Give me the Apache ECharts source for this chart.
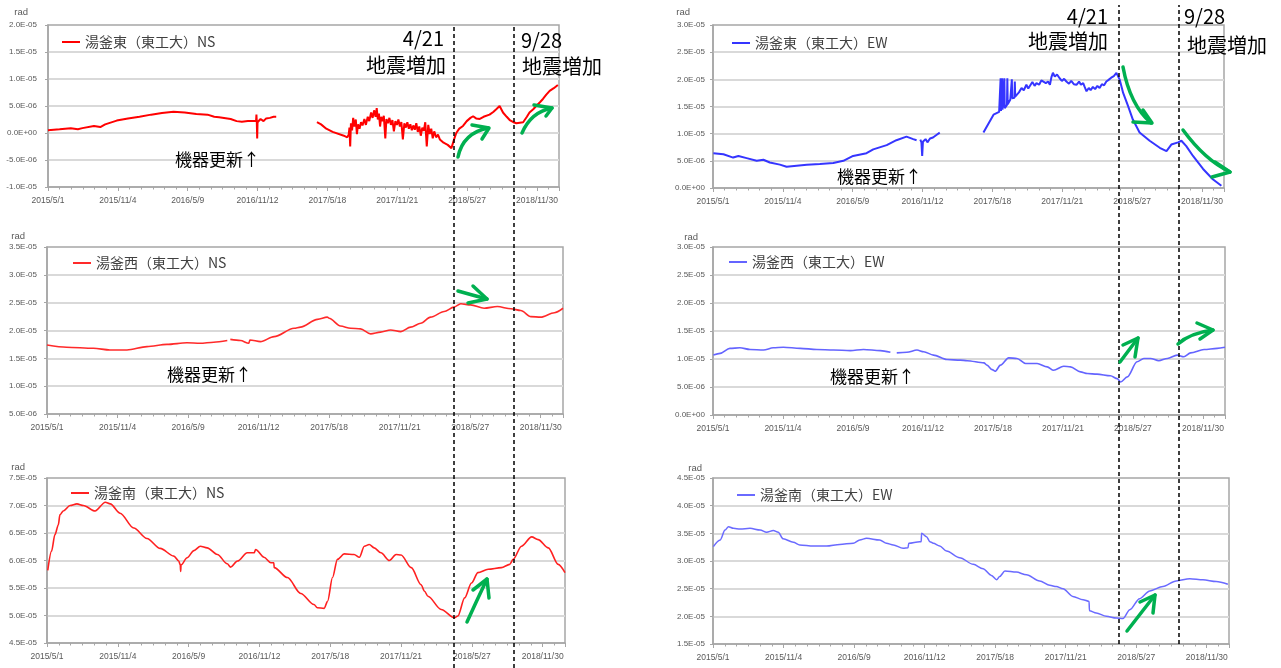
<!DOCTYPE html>
<html>
<head>
<meta charset="utf-8">
<script src="https://cdn.jsdelivr.net/npm/echarts@6/dist/echarts.min.js"></script>
<style>
  html, body { margin: 0; padding: 0; background: #ffffff; }
  #chart { width: 1281px; height: 668px; }
</style>
</head>
<body>
<div id="chart"></div>
<script>
// Tilt records at Yugama crater (Tokyo Tech stations), values in units of 1e-6 rad.

const QUAKE_DATES = ['2018/4/21', '2018/9/28'];
const QUAKE_LABELS = ['4/21', '9/28'];
const QUAKE_NOTE = '地震増加';
const DEVICE_NOTE = '機器更新↑';

// 湯釜東 NS
const eastNSDates = [
  '2015/5/1','2015/6/1','2015/7/1','2015/7/20','2015/8/1','2015/9/1','2015/9/18','2015/10/1','2015/11/1','2015/12/1',
  '2016/1/1','2016/2/1','2016/3/1','2016/4/1','2016/5/1','2016/6/1','2016/7/1','2016/7/19','2016/8/1','2016/9/1',
  '2016/9/17','2016/10/1','2016/10/17','2016/11/8','2016/11/9','2016/11/10','2016/11/11','2016/11/12','2016/11/20','2016/11/28',
  '2016/12/5','2016/12/15','2016/12/20','2016/12/25','2017/1/1','2017/2/15',
  '2017/4/20','2017/5/1','2017/5/15','2017/6/1','2017/7/1','2017/7/10','2017/7/14','2017/7/16','2017/7/18','2017/7/20',
  '2017/7/23','2017/7/26','2017/7/29','2017/8/2','2017/8/5','2017/8/8','2017/8/12','2017/8/16','2017/8/20','2017/8/25',
  '2017/8/29','2017/9/3','2017/9/7','2017/9/12','2017/9/16','2017/9/20','2017/9/24','2017/9/27','2017/9/30','2017/10/3',
  '2017/10/6','2017/10/9','2017/10/13','2017/10/16','2017/10/20','2017/10/23','2017/10/27','2017/10/31','2017/11/4','2017/11/8',
  '2017/11/12','2017/11/16','2017/11/20','2017/11/24','2017/11/28','2017/12/2','2017/12/6','2017/12/10','2017/12/14','2017/12/18',
  '2017/12/22','2017/12/26','2017/12/30','2018/1/3','2018/1/7','2018/1/11','2018/1/15','2018/1/19','2018/1/23','2018/1/27',
  '2018/1/31','2018/2/4','2018/2/8','2018/2/12','2018/2/16','2018/2/20','2018/2/24','2018/2/28','2018/3/5','2018/3/10',
  '2018/3/15','2018/3/20','2018/3/25','2018/3/30','2018/4/5','2018/4/10','2018/4/15','2018/4/19','2018/4/23','2018/4/28',
  '2018/5/6','2018/5/16','2018/5/26','2018/6/5','2018/6/12','2018/6/20','2018/6/30','2018/7/10','2018/7/26','2018/8/5',
  '2018/8/13','2018/8/22','2018/8/31','2018/9/10','2018/9/18','2018/9/28','2018/10/6','2018/10/24','2018/11/3','2018/11/10',
  '2018/11/20','2018/11/28','2018/12/8','2018/12/16','2018/12/25','2019/1/3','2019/1/14','2019/1/25'
];
const eastNSValues = [
  0.5,0.7,0.9,0.7,0.9,1.3,1.1,1.6,2.3,2.7,
  3.0,3.4,3.7,3.95,3.8,3.5,3.4,3.0,2.9,2.6,
  2.2,2.1,2.2,2.2,3.4,2.0,-1.0,2.0,2.6,2.2,
  2.7,2.8,2.5,3.0,3.0,null,
  2.0,1.6,0.8,0.2,-0.5,-0.8,-0.3,1.0,-2.5,1.8,
  0.5,2.8,1.2,2.5,-0.2,1.6,0.8,2.0,1.4,2.6,
  1.5,3.0,2.2,3.8,2.8,4.2,3.0,4.6,2.5,3.6,
  1.2,3.0,2.2,3.2,-1.0,2.6,1.8,2.8,1.5,2.4,
  0.3,2.2,1.5,2.5,1.2,2.0,-1.2,1.8,1.0,2.0,
  0.8,1.6,0.5,1.4,0.6,1.8,0.2,1.2,-0.5,1.0,
  0.4,2.0,-2.5,1.5,-0.2,0.8,-1.0,0.3,-0.8,-0.3,
  -1.2,-1.0,-1.8,-1.6,-2.2,-2.0,-2.8,-2.6,-1.0,0.0,
  0.8,1.3,2.2,2.8,3.1,2.7,2.6,3.0,3.4,3.9,
  4.4,5.0,3.8,3.0,2.4,2.0,1.8,2.0,3.0,3.8,
  4.4,5.0,5.7,6.3,7.1,7.8,8.3,8.9
];

// 湯釜西 NS
const westNSDates = [
  '2015/5/1','2015/6/22','2015/9/1','2015/10/15','2015/11/29','2016/1/21','2016/3/14','2016/5/6','2016/6/10','2016/7/16',
  '2016/8/21','2016/8/25','2016/8/29','2016/9/25','2016/10/17','2016/10/20','2016/11/17','2016/12/23','2017/2/14','2017/3/3',
  '2017/4/17','2017/5/13','2017/5/18','2017/6/17','2017/7/14','2017/8/9','2017/9/5','2017/10/1','2017/10/28','2017/11/24',
  '2017/12/20','2018/1/16','2018/2/11','2018/3/19','2018/4/14','2018/5/2','2018/5/28','2018/7/3','2018/8/7','2018/9/12',
  '2018/10/8','2018/11/4','2018/11/30','2019/1/5','2019/1/28'
];
const westNSValues = [
  17.4,17.0,16.8,16.5,16.5,17.1,17.5,17.8,17.7,17.9,
  18.2,null,18.4,18.2,17.7,18.3,18.0,18.9,20.4,20.6,
  22.0,22.4,22.2,20.8,20.4,20.3,19.4,19.7,20.1,19.8,
  20.6,21.3,22.4,23.4,24.2,24.8,24.6,24.0,24.3,23.9,
  23.6,22.5,22.4,23.2,24.0
];

// 湯釜南 NS
const southNSDates = [
  '2015/5/3','2015/5/13','2015/5/22','2015/5/31','2015/6/4','2015/6/13','2015/7/1','2015/7/19','2015/8/5','2015/9/5',
  '2015/10/2','2015/10/15','2015/11/10','2015/12/16','2016/1/20','2016/2/24','2016/3/31','2016/4/13','2016/4/17','2016/4/18',
  '2016/4/19','2016/5/5','2016/5/23','2016/6/9','2016/6/27','2016/7/24','2016/8/19','2016/8/28','2016/9/15','2016/10/11',
  '2016/10/29','2016/11/2','2016/11/24','2016/12/12','2016/12/20','2016/12/21','2017/1/25','2017/3/1','2017/4/5','2017/4/14',
  '2017/5/2','2017/5/11','2017/5/24','2017/6/6','2017/6/24','2017/7/20','2017/8/3','2017/8/16','2017/8/29','2017/9/11',
  '2017/9/29','2017/10/21','2017/11/8','2017/11/21','2017/12/18','2018/1/13','2018/1/22','2018/1/31','2018/3/7','2018/4/11',
  '2018/4/20','2018/5/8','2018/5/26','2018/6/12','2018/7/9','2018/8/13','2018/9/4','2018/9/13','2018/10/5','2018/11/1',
  '2018/11/18','2018/12/15','2019/1/10','2019/1/28'
];
const southNSValues = [
  58.2,61.7,64.7,66.5,68.3,69.0,70.0,70.3,70.0,69.0,
  70.6,70.3,68.6,65.9,64.0,62.2,60.8,59.9,59.2,58.0,
  59.2,60.5,61.8,62.6,62.3,61.1,59.4,58.8,59.9,61.4,
  61.4,62.0,60.6,59.6,59.6,58.7,56.9,54.0,52.0,51.4,
  51.3,52.6,56.9,60.2,61.2,61.1,60.6,62.6,62.9,62.3,
  61.4,60.0,61.1,61.0,58.7,55.6,54.4,53.5,51.1,49.6,
  49.9,53.2,55.9,57.8,58.4,58.7,59.3,60.2,62.6,64.3,
  63.8,62.3,59.3,57.8
];

// 湯釜東 EW
const eastEWDates = [
  '2015/5/2','2015/5/29','2015/6/24','2015/7/8','2015/7/30','2015/8/26','2015/9/13','2015/9/30','2015/10/27','2015/11/14',
  '2015/12/11','2016/1/7','2016/2/11','2016/3/18','2016/4/14','2016/5/10','2016/6/15','2016/7/3','2016/8/8','2016/9/3',
  '2016/9/30','2016/10/18','2016/10/27','2016/11/2','2016/11/6','2016/11/9','2016/11/11','2016/11/13','2016/11/20','2016/11/25',
  '2016/12/2','2016/12/10','2016/12/20','2016/12/28','2017/2/1',
  '2017/4/24','2017/5/21','2017/6/5','2017/6/8','2017/6/9','2017/6/10','2017/6/12','2017/6/13','2017/6/14','2017/6/18',
  '2017/6/19','2017/6/20','2017/6/26','2017/6/27','2017/6/28','2017/7/5','2017/7/8','2017/7/9','2017/7/10','2017/7/16',
  '2017/7/17','2017/7/18','2017/7/21','2017/7/28','2017/8/4','2017/8/10','2017/8/17','2017/8/22','2017/8/26','2017/9/2',
  '2017/9/8','2017/9/13','2017/9/20','2017/9/26','2017/10/1','2017/10/8','2017/10/14','2017/10/19','2017/10/23','2017/10/27',
  '2017/11/1','2017/11/7','2017/11/14','2017/11/20','2017/11/26','2017/12/2','2017/12/9','2017/12/15','2017/12/22','2017/12/29',
  '2018/1/5','2018/1/10','2018/1/16','2018/1/20','2018/1/25','2018/1/31','2018/2/5','2018/2/11','2018/2/17','2018/2/23',
  '2018/3/1','2018/3/7','2018/3/13','2018/3/19','2018/3/25','2018/4/1','2018/4/8','2018/4/15','2018/4/20','2018/4/24',
  '2018/5/3','2018/5/16','2018/5/29','2018/6/16','2018/7/13','2018/8/9','2018/8/27','2018/9/9','2018/9/27','2018/10/6',
  '2018/10/19','2018/11/6','2018/12/3','2018/12/29','2019/1/21'
];
const eastEWValues = [
  6.4,6.2,5.6,5.9,5.5,5.0,5.2,4.7,4.3,3.9,
  4.1,4.3,4.4,4.6,5.0,5.9,6.4,7.1,7.9,8.8,
  9.45,9.0,8.8,null,8.9,8.4,5.9,8.5,9.0,8.4,
  9.1,9.3,9.8,10.2,null,
  10.2,13.5,14.0,14.1,20.2,14.2,14.3,20.2,14.4,14.6,
  20.2,14.7,15.3,20.2,15.4,16.3,16.4,20.0,16.5,16.6,
  19.6,16.8,16.9,17.6,18.4,18.0,19.0,18.3,18.6,19.5,
  18.8,19.3,19.0,19.8,19.9,19.3,19.6,19.0,20.4,21.2,
  20.5,20.9,20.2,19.7,20.1,19.6,19.2,19.7,19.1,19.0,
  19.6,19.0,19.3,18.6,17.8,18.4,18.0,18.6,18.2,18.8,
  18.4,19.1,18.9,19.6,19.9,20.3,20.6,21.2,21.5,19.9,
  17.5,15.1,12.6,10.2,8.7,7.4,6.8,8.0,8.4,8.7,
  7.7,5.9,3.5,1.6,0.4
];

// 湯釜西 EW
const westEWDates = [
  '2015/5/2','2015/5/20','2015/6/15','2015/7/12','2015/8/8','2015/9/13','2015/10/9','2015/11/5','2015/12/20','2016/2/2',
  '2016/3/18','2016/5/2','2016/6/6','2016/7/21','2016/8/17','2016/8/25','2016/9/3','2016/9/30','2016/10/27','2016/11/14',
  '2016/12/10','2017/1/15','2017/2/20','2017/3/10','2017/4/24','2017/5/2','2017/5/16','2017/5/24','2017/6/7','2017/6/29',
  '2017/7/21','2017/8/13','2017/9/13','2017/10/10','2017/10/27','2017/11/23','2017/12/11','2018/1/7','2018/1/25','2018/2/20',
  '2018/3/28','2018/4/15','2018/4/24','2018/5/12','2018/6/7','2018/6/25','2018/7/13','2018/8/4','2018/8/27','2018/9/22',
  '2018/10/10','2018/10/28','2018/12/3','2019/1/7','2019/1/28'
];
const westEWValues = [
  10.7,11.0,11.9,12.0,11.7,11.6,12.0,12.1,11.9,11.7,
  11.6,11.5,11.7,11.5,11.2,null,11.1,11.2,11.6,11.3,
  10.7,9.9,9.8,9.7,9.3,8.9,8.1,7.8,8.9,10.2,
  10.1,9.2,9.2,8.6,8.0,8.7,8.6,7.7,7.4,7.3,
  7.0,6.5,5.9,6.8,9.5,10.1,10.1,9.7,10.1,10.7,
  10.4,11.1,11.7,11.9,12.1
];

// 湯釜南 EW
const southEWDates = [
  '2015/5/2','2015/5/20','2015/6/2','2015/6/11','2015/6/24','2015/7/12','2015/8/7','2015/9/3','2015/9/20','2015/10/8',
  '2015/10/21','2015/11/3','2015/11/30','2015/12/17','2016/1/22','2016/2/26','2016/4/1','2016/5/7','2016/5/24','2016/6/11',
  '2016/7/16','2016/8/3','2016/8/21','2016/9/16','2016/9/29','2016/10/1','2016/10/30','2016/11/3','2016/11/4','2016/11/17',
  '2016/11/26','2016/12/5','2016/12/22','2017/1/9','2017/2/13','2017/3/21','2017/4/16','2017/5/8','2017/5/22','2017/5/30',
  '2017/6/13','2017/7/13','2017/8/9','2017/9/13','2017/10/10','2017/10/27','2017/11/14','2017/12/10','2018/1/6','2018/1/22',
  '2018/1/23','2018/2/10','2018/3/9','2018/4/4','2018/4/22','2018/5/10','2018/6/5','2018/7/2','2018/8/6','2018/9/10',
  '2018/10/16','2018/11/20','2018/12/25','2019/1/25'
];
const southEWValues = [
  32.6,33.8,35.6,36.2,35.9,35.8,35.9,35.6,35.2,35.5,
  35.2,34.0,33.4,32.9,32.7,32.7,33.0,33.2,33.8,34.1,
  33.8,33.2,32.9,32.3,32.4,33.2,33.5,33.5,35.0,34.4,
  33.5,33.2,32.7,31.8,30.6,29.4,28.6,27.4,26.6,27.2,
  28.2,28.0,27.5,26.4,25.6,25.4,25.0,23.6,23.0,22.7,
  21.0,20.6,20.0,19.7,19.6,21.2,23.2,24.6,25.4,26.4,
  26.8,26.6,26.3,25.8
];

// ---- helpers ----
const ORIGIN = Date.UTC(2015, 4, 1);
const X_MAX = 1368;          // days after 2015/5/1 shown on each time axis
const X_STEP = 187;          // days between date labels
const MICRO = 1e-6;

function dayOf(s) {
  const p = s.split('/').map(Number);
  return Math.round((Date.UTC(p[0], p[1] - 1, p[2]) - ORIGIN) / 864e5);
}
function dateLabel(v) {
  const t = new Date(ORIGIN + v * 864e5);
  return t.getUTCFullYear() + '/' + (t.getUTCMonth() + 1) + '/' + t.getUTCDate();
}
function sci(v) {
  const x = v * MICRO;
  if (Math.abs(x) < 1e-12) return '0.0E+00';
  const parts = x.toExponential(1).split('e');
  const n = parseInt(parts[1], 10);
  return parts[0] + 'E' + (n < 0 ? '-' : '+') + String(Math.abs(n)).padStart(2, '0');
}
function points(dates, values) {
  return dates.map((d, i) => [dayOf(d), values[i]]);
}

const panels = [
  { name: '湯釜東（東工大）NS', data: points(eastNSDates, eastNSValues),  color: '#ff0000', width: 2.0, smooth: false, yMin: -10, yMax: 20 },
  { name: '湯釜西（東工大）NS', data: points(westNSDates, westNSValues),  color: '#ff2a2a', width: 1.6, smooth: 0.3,   yMin: 5,   yMax: 35 },
  { name: '湯釜南（東工大）NS', data: points(southNSDates, southNSValues), color: '#ff2020', width: 1.6, smooth: 0.3,   yMin: 45,  yMax: 75 },
  { name: '湯釜東（東工大）EW', data: points(eastEWDates, eastEWValues),  color: '#3535ff', width: 2.0, smooth: false, yMin: 0,   yMax: 30 },
  { name: '湯釜西（東工大）EW', data: points(westEWDates, westEWValues),  color: '#6464ff', width: 1.6, smooth: 0.3,   yMin: 0,   yMax: 30 },
  { name: '湯釜南（東工大）EW', data: points(southEWDates, southEWValues), color: '#6a6aff', width: 1.5, smooth: 0.3,   yMin: 15,  yMax: 45 }
];

// plot frames (pixels)
const frames = [
  { left: 48,  top: 25,  width: 511, height: 162, yMargin: 11, legendLeft: 62,  legendMid: 42,  radPad: 20, radGap: 8 },
  { left: 47,  top: 247, width: 516, height: 167, yMargin: 10, legendLeft: 73,  legendMid: 263, radPad: 22, radGap: 6 },
  { left: 47,  top: 478, width: 518, height: 165, yMargin: 10, legendLeft: 71,  legendMid: 493, radPad: 22, radGap: 6 },
  { left: 713, top: 25,  width: 511, height: 163, yMargin: 8,  legendLeft: 732, legendMid: 43,  radPad: 23, radGap: 8 },
  { left: 713, top: 247, width: 512, height: 168, yMargin: 8,  legendLeft: 729, legendMid: 262, radPad: 15, radGap: 5 },
  { left: 713, top: 478, width: 516, height: 166, yMargin: 8,  legendLeft: 737, legendMid: 495, radPad: 11, radGap: 5 }
];
// full-height frames carrying the dashed event lines of each column
const eventFrames = [
  { left: 48,  top: 25, width: 511, bottom: 0 },
  { left: 713, top: 5,  width: 511, bottom: 24 }
];

const AXIS_GRAY = '#a6a6a6';
const LABEL_GRAY = '#595959';
const CJK = '"Noto Sans CJK JP", "Noto Sans", sans-serif';

const grid = frames.map(f => ({
  left: f.left, top: f.top, width: f.width, height: f.height,
  show: true, borderColor: AXIS_GRAY, borderWidth: 1.5, backgroundColor: 'transparent'
})).concat(eventFrames.map(f => ({ left: f.left, top: f.top, width: f.width, bottom: f.bottom })));

const xAxis = frames.map((f, i) => ({
  type: 'value', gridIndex: i, min: 0, max: X_MAX, interval: X_STEP,
  axisLine: { show: true, onZero: false, lineStyle: { color: AXIS_GRAY, width: 1.5 } },
  axisTick: { show: true, length: 4, lineStyle: { color: AXIS_GRAY } },
  minorTick: { show: true, splitNumber: 6, length: 2.5, lineStyle: { color: AXIS_GRAY } },
  splitLine: { show: false },
  axisLabel: {
    formatter: v => (v % X_STEP === 0 ? dateLabel(v) : ''),
    fontSize: 8.5, color: LABEL_GRAY, margin: 9, fontFamily: 'Liberation Sans'
  }
})).concat(eventFrames.map((f, j) => ({
  type: 'value', gridIndex: frames.length + j, min: 0, max: X_MAX, show: false
})));

const yAxis = frames.map((f, i) => ({
  type: 'value', gridIndex: i, min: panels[i].yMin, max: panels[i].yMax, interval: 5,
  name: 'rad', nameLocation: 'end', nameGap: f.radGap,
  nameTextStyle: { align: 'right', padding: [0, f.radPad, 0, 0], fontSize: 9.5, color: LABEL_GRAY, fontFamily: 'Liberation Sans' },
  axisLine: { show: true, onZero: false, lineStyle: { color: AXIS_GRAY, width: 1.5 } },
  axisTick: { show: true, length: 3, lineStyle: { color: AXIS_GRAY } },
  axisLabel: { formatter: sci, fontSize: 8, color: LABEL_GRAY, margin: f.yMargin, fontFamily: 'Liberation Sans' },
  splitLine: { show: true, showMinLine: false, showMaxLine: false, lineStyle: { color: '#d9d9d9', width: 2 } }
})).concat(eventFrames.map((f, j) => ({
  type: 'value', gridIndex: frames.length + j, min: 0, max: 1, show: false
})));

const series = panels.map((p, i) => ({
  type: 'line', name: p.name, xAxisIndex: i, yAxisIndex: i,
  data: p.data, color: p.color, symbol: 'none', showSymbol: false,
  smooth: p.smooth, smoothMonotone: 'x', connectNulls: false,
  lineStyle: { width: p.width, color: p.color }, z: 3
})).concat(eventFrames.map((f, j) => ({
  type: 'line', xAxisIndex: frames.length + j, yAxisIndex: frames.length + j,
  data: [[0, null]], symbol: 'none', silent: true, z: 10,
  markLine: {
    silent: true, symbol: ['none', 'none'], label: { show: false },
    lineStyle: { color: '#000000', type: [4, 3], width: 1.5 },
    data: QUAKE_DATES.map(d => ({ xAxis: dayOf(d) }))
  }
})));

const legend = panels.map((p, i) => ({
  data: [p.name], left: frames[i].legendLeft, top: frames[i].legendMid - 8,
  padding: 0, icon: 'rect', itemWidth: 18, itemHeight: 2, selectedMode: false,
  textStyle: { fontSize: 14, color: '#404040', fontFamily: CJK, lineHeight: 16 }
}));

// annotation text
function note(text, x, y, align, size) {
  return {
    type: 'text', silent: true, z: 20,
    style: {
      text: text, x: x, y: y, fill: '#000000',
      font: size + 'px ' + CJK,
      align: align, textAlign: align, verticalAlign: 'middle', textVerticalAlign: 'middle'
    }
  };
}
// green hand-drawn style arrows: shaft (curve) plus open head
const GREEN = '#00b050';
function arrow(x1, y1, cx, cy, x2, y2, head) {
  return [
    { type: 'bezierCurve', silent: true, z: 20,
      shape: { x1: x1, y1: y1, x2: x2, y2: y2, cpx1: cx, cpy1: cy },
      style: { stroke: GREEN, lineWidth: 3.5, fill: null, lineCap: 'round' } },
    { type: 'polyline', silent: true, z: 20,
      shape: { points: head },
      style: { stroke: GREEN, lineWidth: 3.5, fill: null, lineCap: 'round', lineJoin: 'round' } }
  ];
}

const graphic = [
  note(QUAKE_LABELS[0], 444, 38, 'right', 20),
  note(QUAKE_NOTE, 446, 65, 'right', 20),
  note(QUAKE_LABELS[1], 521, 40, 'left', 20),
  note(QUAKE_NOTE, 522, 66, 'left', 20),
  note(DEVICE_NOTE, 175, 160, 'left', 17),
  note(DEVICE_NOTE, 167, 375, 'left', 17),
  note(QUAKE_LABELS[0], 1108, 16, 'right', 20),
  note(QUAKE_NOTE, 1108, 41, 'right', 20),
  note(QUAKE_LABELS[1], 1184, 16, 'left', 20),
  note(QUAKE_NOTE, 1187, 45, 'left', 20),
  note(DEVICE_NOTE, 837, 177, 'left', 17),
  note(DEVICE_NOTE, 830, 377, 'left', 17)
].concat(
  arrow(458, 157, 463, 133, 488, 128, [[472, 125], [489, 128], [482, 139]]),
  arrow(522, 133, 531, 112, 552, 108, [[534, 105], [552, 108], [546, 116]]),
  arrow(458, 291, 472, 295, 487, 299, [[473, 286], [487, 299], [468, 303]]),
  arrow(467, 622, 477, 600, 487, 579, [[473, 590], [487, 579], [489, 598]]),
  arrow(1123, 67, 1130, 105, 1151, 123, [[1143, 110], [1152, 123], [1133, 122]]),
  arrow(1183, 130, 1205, 160, 1230, 172, [[1215, 162], [1230, 172], [1212, 177]]),
  arrow(1120, 362, 1129, 350, 1138, 338, [[1123, 345], [1138, 338], [1135, 357]]),
  arrow(1178, 344, 1190, 333, 1213, 330, [[1197, 323], [1213, 330], [1200, 339]]),
  arrow(1127, 631, 1141, 613, 1155, 595, [[1140, 602], [1155, 595], [1153, 613]])
);

const chart = echarts.init(document.getElementById('chart'), null, { renderer: 'canvas' });
chart.setOption({
  animation: false,
  backgroundColor: '#ffffff',
  grid: grid,
  xAxis: xAxis,
  yAxis: yAxis,
  legend: legend,
  series: series,
  graphic: graphic
});
</script>
</body>
</html>
